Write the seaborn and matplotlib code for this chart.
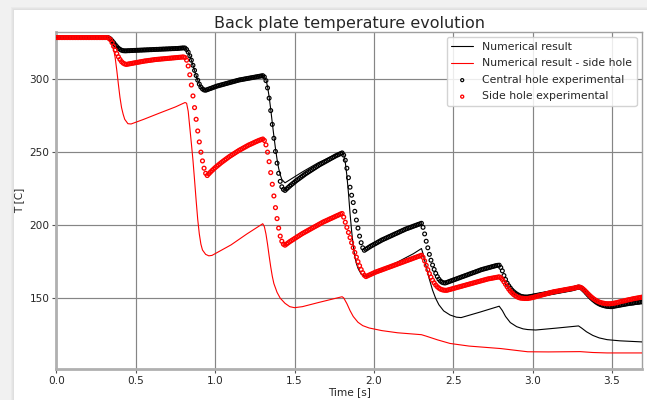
import numpy as np
import matplotlib
matplotlib.use("Agg")
import matplotlib.pyplot as plt
import seaborn as sns
from matplotlib.patches import Rectangle

# ---------------- data ----------------
sample_dt = 0.01  # experimental sampling step [s]

central_exp = [
    328.5, 328.5, 328.5, 328.5, 328.5, 328.5, 328.5, 328.5, 328.5, 328.5, 328.5,
    328.5, 328.5, 328.5, 328.5, 328.5, 328.5, 328.5, 328.5, 328.5, 328.5, 328.5,
    328.5, 328.5, 328.5, 328.5, 328.5, 328.5, 328.5, 328.5, 328.5, 328.5, 328.5,
    328.2, 327.5, 326.3, 325.0, 323.6, 322.3, 321.2, 320.4, 319.8, 319.5, 319.4, 319.4,
    319.5, 319.5, 319.6, 319.6, 319.7, 319.7, 319.8, 319.8, 319.9, 319.9, 320.0, 320.0,
    320.1, 320.1, 320.2, 320.2, 320.3, 320.3, 320.4, 320.4, 320.5, 320.5, 320.6, 320.6,
    320.7, 320.7, 320.8, 320.8, 320.9, 320.9, 321.0, 321.0, 321.1, 321.2, 321.3, 321.4,
    321.3, 320.3, 318.5, 316.0, 313.0, 309.5, 306.0, 302.5, 299.3, 296.6, 294.6, 293.3, 292.6, 292.4,
    292.8, 293.2, 293.6, 294.0, 294.4, 294.8, 295.2, 295.5, 295.8, 296.1, 296.4, 296.7,
    297.0, 297.3, 297.6, 297.9, 298.2, 298.5, 298.8, 299.1, 299.4, 299.6, 299.8, 300.0,
    300.2, 300.4, 300.6, 300.8, 301.0, 301.2, 301.4, 301.6, 301.8, 302.0, 302.2, 302.4,
    301.5, 299.0, 294.0, 287.0, 278.5, 269.0, 259.5, 250.5, 242.5, 235.5, 230.0, 226.3, 224.5, 223.8,
    224.8, 225.8, 226.8, 227.7, 228.6, 229.5, 230.4, 231.2, 232.0, 232.8, 233.6, 234.4,
    235.2, 235.9, 236.6, 237.3, 238.0, 238.7, 239.4, 240.1, 240.8, 241.5, 242.1, 242.7,
    243.3, 243.9, 244.5, 245.1, 245.7, 246.3, 246.9, 247.5, 248.0, 248.5, 249.0, 249.5,
    248.0, 244.5, 239.0, 232.5, 226.0, 220.5, 215.5, 209.5, 203.5, 198.0, 192.5, 188.0, 184.5, 182.8,
    183.5, 184.2, 184.9, 185.6, 186.2, 186.8, 187.4, 188.0, 188.6, 189.2, 189.8, 190.3,
    190.8, 191.3, 191.8, 192.3, 192.8, 193.3, 193.8, 194.3, 194.8, 195.3, 195.8, 196.3,
    196.8, 197.3, 197.7, 198.1, 198.5, 198.9, 199.3, 199.7, 200.1, 200.5, 200.9, 201.3,
    198.5, 194.0, 189.0, 184.5, 180.0, 176.0, 172.7, 169.7, 167.0, 164.8, 163.0, 161.7, 160.9, 160.5, 160.4,
    160.8, 161.2, 161.6, 162.0, 162.4, 162.8, 163.2, 163.6, 164.0, 164.4, 164.8, 165.2,
    165.6, 166.0, 166.4, 166.8, 167.2, 167.6, 168.0, 168.4, 168.8, 169.2, 169.6, 169.9,
    170.2, 170.5, 170.8, 171.1, 171.4, 171.7, 172.0, 172.3, 172.5, 172.6,
    171.0, 168.7, 165.5, 162.8, 160.3, 158.5, 157.0, 155.6, 154.5, 153.6, 152.8, 152.2,
    151.6, 151.2, 151.0, 150.8, 150.8, 150.8,
    151.0, 151.2, 151.4, 151.6, 151.8, 152.0, 152.2, 152.4, 152.6, 152.8, 153.0, 153.2,
    153.4, 153.6, 153.8, 154.0, 154.2, 154.4, 154.6, 154.8, 155.0, 155.2, 155.4, 155.6,
    155.8, 156.0, 156.2, 156.4, 156.7, 157.0, 157.3, 157.6,
    157.4, 156.8, 155.8, 154.7, 153.5, 152.3, 151.2, 150.1, 149.1, 148.2, 147.4, 146.7,
    146.1, 145.6, 145.2, 144.9, 144.6, 144.4, 144.3, 144.2, 144.2,
    144.4, 144.6, 144.8, 145.0, 145.2, 145.4, 145.6, 145.8, 146.0, 146.2, 146.4, 146.5,
    146.6, 146.8, 147.0, 147.1, 147.2, 147.4, 147.5, 147.7,
]

side_exp = [
    328.5, 328.5, 328.5, 328.5, 328.5, 328.5, 328.5, 328.5, 328.5, 328.5, 328.5,
    328.5, 328.5, 328.5, 328.5, 328.5, 328.5, 328.5, 328.5, 328.5, 328.5, 328.5,
    328.5, 328.5, 328.5, 328.5, 328.5, 328.5, 328.5, 328.5, 328.5, 328.5, 328.5,
    328.0, 327.0, 325.0, 322.5, 320.0, 317.5, 315.3, 313.5, 312.0, 311.0, 310.4, 310.1,
    310.3, 310.5, 310.7, 310.9, 311.1, 311.3, 311.5, 311.7, 311.9, 312.1, 312.3, 312.5,
    312.6, 312.8, 312.9, 313.1, 313.2, 313.4, 313.5, 313.6, 313.7, 313.8, 313.9, 314.0,
    314.1, 314.2, 314.3, 314.4, 314.5, 314.6, 314.7, 314.8, 314.9, 315.0, 315.1, 315.2,
    314.8, 313.0, 309.0, 303.0, 296.0, 288.5, 280.5, 272.5, 264.5, 257.0, 250.0, 244.0,
    239.0, 235.5, 234.0,
    235.2, 236.3, 237.4, 238.4, 239.4, 240.3, 241.2, 242.1, 243.0, 243.8, 244.6, 245.4,
    246.2, 247.0, 247.7, 248.4, 249.1, 249.8, 250.5, 251.2, 251.8, 252.4, 253.0, 253.6,
    254.2, 254.8, 255.3, 255.8, 256.3, 256.8, 257.3, 257.8, 258.2, 258.6, 259.0,
    258.0, 255.0, 250.0, 243.5, 236.0, 228.0, 220.0, 212.0, 204.5, 198.0, 192.5, 189.0, 187.0, 186.3,
    187.1, 187.9, 188.7, 189.4, 190.1, 190.8, 191.5, 192.2, 192.9, 193.6, 194.3, 194.9,
    195.5, 196.1, 196.7, 197.3, 197.9, 198.5, 199.1, 199.7, 200.3, 200.9, 201.5, 202.1,
    202.6, 203.1, 203.6, 204.1, 204.6, 205.1, 205.6, 206.1, 206.6, 207.1, 207.6, 208.0,
    205.5, 202.0, 198.5, 195.0, 191.5, 188.0, 184.6, 181.3, 178.1, 175.0, 172.2, 169.6,
    167.4, 165.7, 164.8,
    165.3, 165.8, 166.3, 166.8, 167.3, 167.8, 168.2, 168.6, 169.0, 169.4, 169.8, 170.2,
    170.6, 171.0, 171.4, 171.8, 172.2, 172.6, 173.0, 173.4, 173.8, 174.2, 174.6, 175.0,
    175.4, 175.8, 176.2, 176.6, 177.0, 177.4, 177.8, 178.2, 178.6, 179.0, 179.4,
    178.0, 175.5, 172.5, 169.5, 166.8, 164.4, 162.3, 160.5, 159.0, 157.8, 156.9, 156.2,
    155.8, 155.5, 155.4, 155.4,
    155.7, 156.0, 156.3, 156.6, 156.9, 157.2, 157.5, 157.8, 158.1, 158.4, 158.7, 159.0,
    159.3, 159.6, 159.9, 160.2, 160.5, 160.8, 161.1, 161.4, 161.7, 162.0, 162.3, 162.6,
    162.9, 163.2, 163.4, 163.6, 163.8, 164.0, 164.2, 164.4, 164.6,
    164.0, 162.8, 161.2, 159.5, 157.8, 156.2, 154.8, 153.6, 152.6, 151.8, 151.1, 150.6,
    150.2, 150.0, 149.9, 149.8, 149.8, 149.8,
    150.0, 150.2, 150.4, 150.7, 151.0, 151.3, 151.6, 151.9, 152.2, 152.5, 152.8, 153.1,
    153.4, 153.7, 154.0, 154.3, 154.5, 154.7, 154.9, 155.1, 155.3, 155.5, 155.7, 155.9,
    156.1, 156.3, 156.5, 156.7, 156.9, 157.1, 157.4, 157.7,
    157.5, 157.0, 156.2, 155.2, 154.1, 153.0, 151.9, 150.9, 150.0, 149.2, 148.5, 147.9,
    147.4, 147.0, 146.7, 146.5, 146.3, 146.2, 146.2, 146.2, 146.3,
    146.5, 146.7, 146.9, 147.2, 147.5, 147.8, 148.0, 148.2, 148.5, 148.8, 149.0, 149.2,
    149.5, 149.7, 149.9, 150.1, 150.3, 150.5, 150.7, 150.9,
]

central_num_t = [
    0.00, 0.33, 0.34, 0.35, 0.36, 0.37, 0.38, 0.39, 0.40, 0.41,
    0.42, 0.44, 0.46, 0.60, 0.70, 0.80, 0.81, 0.82, 0.83, 0.84,
    0.85, 0.86, 0.87, 0.88, 0.89, 0.90, 0.91, 0.92, 0.93, 0.95,
    1.05, 1.15, 1.30, 1.31, 1.32, 1.33, 1.34, 1.35, 1.36, 1.37,
    1.38, 1.39, 1.40, 1.41, 1.42, 1.44, 1.55, 1.65, 1.80, 1.81,
    1.82, 1.83, 1.84, 1.85, 1.86, 1.87, 1.88, 1.89, 1.90, 1.92,
    1.94, 1.96, 2.05, 2.15, 2.25, 2.30, 2.31, 2.33, 2.35, 2.37,
    2.39, 2.41, 2.44, 2.48, 2.52, 2.55, 2.67, 2.79, 2.81, 2.83,
    2.86, 2.90, 2.94, 2.97, 3.02, 3.15, 3.29, 3.31, 3.34, 3.38,
    3.42, 3.47, 3.55, 3.70,
]
central_num = [
    328.5, 328.4, 327.8, 326.5, 325.0, 323.5, 322.2, 321.1, 320.3, 319.8,
    319.5, 319.4, 319.4, 320.2, 320.8, 321.6, 321.3, 320.3, 318.5, 316.0,
    313.0, 309.5, 306.0, 302.5, 299.3, 296.6, 294.6, 293.3, 292.6, 292.5,
    296.3, 299.3, 302.5, 301.8, 299.5, 295.0, 288.0, 279.5, 270.0, 261.0,
    252.5, 245.0, 239.0, 234.5, 231.3, 229.0, 236.5, 242.8, 250.3, 248.5,
    243.0, 234.0, 222.0, 208.0, 196.0, 186.0, 178.5, 173.8, 170.5, 166.5,
    165.0, 165.0, 169.5, 174.8, 180.5, 184.0, 180.5, 171.5, 163.0, 155.5,
    149.8, 145.5, 141.3, 138.5, 137.0, 136.7, 140.5, 144.5, 141.5, 137.5,
    133.3, 130.5, 129.0, 128.5, 128.2, 129.5, 131.0, 129.5, 127.0, 124.5,
    122.8, 121.6, 120.8, 120.0,
]

side_num_t = [
    0.00, 0.33, 0.34, 0.35, 0.36, 0.37, 0.38, 0.39, 0.40, 0.41,
    0.42, 0.43, 0.45, 0.47, 0.55, 0.65, 0.75, 0.81, 0.82, 0.83,
    0.84, 0.85, 0.86, 0.87, 0.88, 0.89, 0.90, 0.91, 0.92, 0.94,
    0.96, 0.98, 1.10, 1.20, 1.30, 1.31, 1.32, 1.33, 1.34, 1.35,
    1.36, 1.37, 1.39, 1.41, 1.44, 1.47, 1.50, 1.55, 1.65, 1.80,
    1.81, 1.83, 1.85, 1.87, 1.90, 1.93, 1.97, 2.05, 2.15, 2.30,
    2.33, 2.40, 2.48, 2.60, 2.80, 2.90, 2.97, 3.10, 3.30, 3.38,
    3.47, 3.70,
]
side_num = [
    328.5, 328.4, 327.5, 325.0, 320.5, 314.5, 306.0, 296.5, 287.5, 280.5,
    276.0, 272.5, 269.5, 269.3, 272.5, 276.8, 281.0, 284.0, 283.5, 278.0,
    267.0, 256.0, 244.5, 231.0, 217.0, 204.0, 194.0, 187.0, 183.0, 180.0,
    179.0, 179.3, 186.5, 194.0, 201.0, 199.0, 194.0, 187.0, 179.0, 171.5,
    165.0, 160.0, 154.0, 150.0, 146.5, 144.2, 143.5, 144.2, 147.0, 151.0,
    150.2, 146.3, 141.5, 137.5, 133.5, 131.2, 129.6, 127.8, 126.3, 125.0,
    124.0, 121.5, 119.0, 117.2, 115.5, 114.2, 113.3, 113.2, 113.4, 112.8,
    112.5, 112.5,
]

x_ticks = [0.0, 0.5, 1.0, 1.5, 2.0, 2.5, 3.0, 3.5]
y_ticks = [150, 200, 250, 300]
title_text = "Back plate temperature evolution"
x_label = "Time [s]"
y_label = "T [C]"
labels = ["Numerical result", "Numerical result - side hole",
          "Central hole experimental", "Side hole experimental"]

# ---------------- figure ----------------
sns.set_style("white")
plt.rcParams["font.family"] = ["DejaVu Sans"]

W, H = 647, 400
fig = plt.figure(figsize=(W / 100, H / 100), dpi=100, facecolor="#f1f1f1")

# screenshot card with soft shadow on the left / top
shadow = ["#eaeaea", "#e4e4e4", "#dfdfdf"]
for k, c in enumerate(shadow):
    off = 3 - k
    fig.add_artist(Rectangle(((14 - off) / W, 0), 1, (390 + off) / H,
                             transform=fig.transFigure, facecolor=c,
                             edgecolor="none", zorder=-3 + k))
fig.add_artist(Rectangle((14 / W, 0), 1, 390 / H, transform=fig.transFigure,
                         facecolor="white", edgecolor="none", zorder=0))

ax = fig.add_axes([56.5 / W, (H - 369) / H, (642 - 56.5) / W, (369 - 31.7) / H])
ax.set_facecolor("white")

exp_time = np.arange(len(central_exp)) * sample_dt
exp_time_side = np.arange(len(side_exp)) * sample_dt

sns.lineplot(x=central_num_t, y=central_num, color="black", linewidth=0.8,
             sort=False, estimator=None, label=labels[0], ax=ax, zorder=3)
sns.lineplot(x=side_num_t, y=side_num, color="red", linewidth=0.8,
             sort=False, estimator=None, label=labels[1], ax=ax, zorder=3)
sns.scatterplot(x=exp_time, y=central_exp, marker="o", s=7.5,
                facecolor="none", edgecolor="black", linewidth=0.85,
                label=labels[2], ax=ax, zorder=4)
sns.scatterplot(x=exp_time_side, y=side_exp, marker="o", s=7.5,
                facecolor="none", edgecolor="red", linewidth=0.95,
                label=labels[3], ax=ax, zorder=5)

ax.set_xlim(0, 3.69)
ax.set_ylim(101.5, 332.5)
ax.set_xticks(x_ticks)
ax.set_xticklabels([f"{v:.1f}" for v in x_ticks])
ax.set_yticks(y_ticks)
ax.set_yticklabels([str(v) for v in y_ticks])

ax.grid(True, color="#858585", linewidth=0.85)
ax.set_axisbelow(True)
for side in ["left", "bottom"]:
    ax.spines[side].set_color("#b0b0b0")
    ax.spines[side].set_linewidth(2.0)
for side in ["top", "right"]:
    ax.spines[side].set_color("#a0a0a0")
    ax.spines[side].set_linewidth(1.0)
ax.tick_params(axis="both", direction="out", length=3, width=0.8,
               color="#555555", labelsize=7.6, pad=2, left=True, bottom=True)

ax.set_title(title_text, fontsize=11.5, pad=3)
ax.set_xlabel(x_label, fontsize=7.6, labelpad=1)
ax.set_ylabel(y_label, fontsize=7.6, labelpad=4)

leg = ax.legend(loc="upper right", fontsize=7.8, frameon=True, framealpha=0.85,
                edgecolor="#cccccc", borderaxespad=0.5, handlelength=2.0,
                labelspacing=0.6, borderpad=0.45, markerscale=0.8)
leg.set_zorder(10)

fig.savefig("out.png", dpi=100, facecolor=fig.get_facecolor())
